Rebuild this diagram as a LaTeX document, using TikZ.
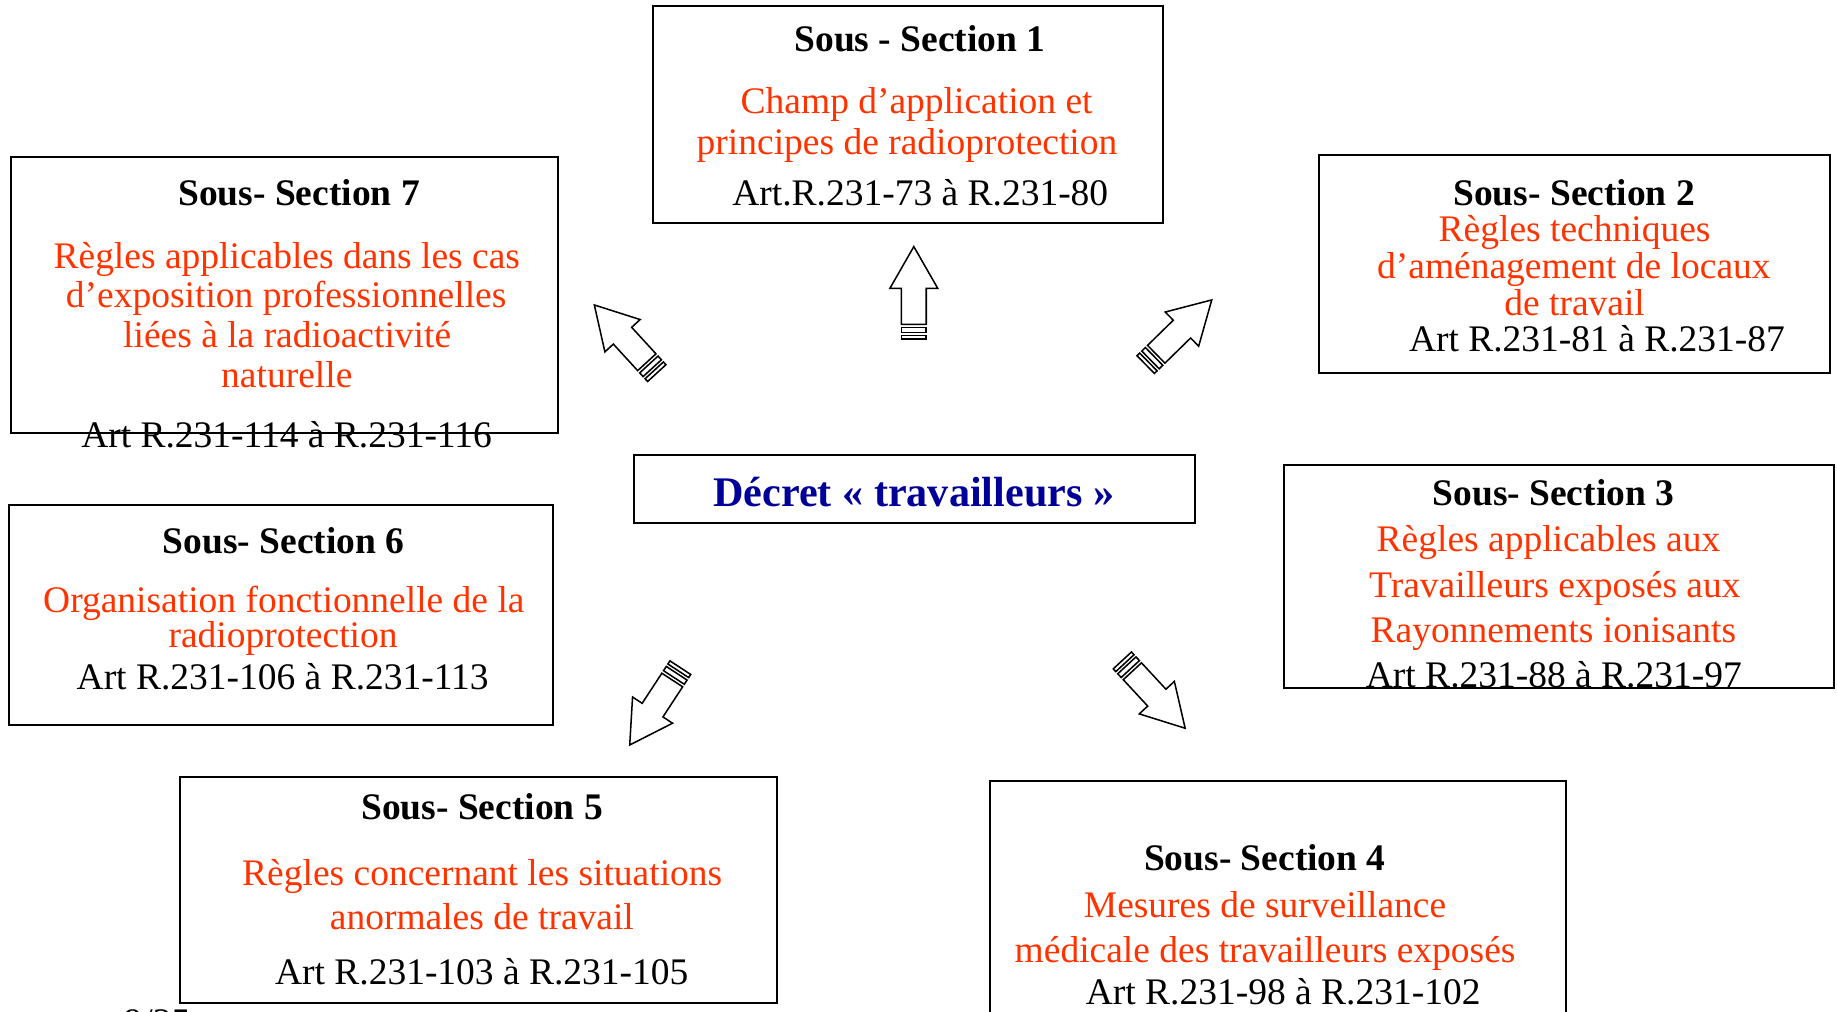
\documentclass[tikz,border=0pt]{standalone}
\usepackage{fontspec}
\setmainfont{Liberation Serif}
\definecolor{ssred}{RGB}{255,51,0}
\definecolor{decblue}{RGB}{0,0,153}
\tikzset{
  box/.style={draw, line width=0.8pt, inner sep=0pt, outer sep=0pt},
  txt/.style={anchor=base, inner sep=0pt, outer sep=0pt, font=\fontsize{16pt}{17pt}\selectfont},
  hdr/.style={txt, font=\fontsize{16pt}{17pt}\selectfont\bfseries},
  body/.style={txt, text=ssred},
  art/.style={txt},
  dec/.style={anchor=base, inner sep=0pt, text=decblue, font=\fontsize{18pt}{20pt}\selectfont\bfseries},
  arrowline/.style={draw, fill=white, line width=0.65pt, line join=miter},
  blockarrow/.pic={
    \path[arrowline] (0,0) -- (-35.6,20.4) -- (-35.6,10.6) -- (-66.3,10.6)
      -- (-66.3,-10.6) -- (-35.6,-10.6) -- (-35.6,-20.4) -- cycle;
    \path[arrowline] (-68.9,-10.6) rectangle (-73.2,10.6);
    \path[arrowline] (-75.7,-10.6) rectangle (-78.9,10.6);
  }
}
\begin{document}
\begin{tikzpicture}[x=0.5pt,y=0.5pt]
\useasboundingbox (0,0) rectangle (1568,-863);
\clip (0,0) rectangle (1568,-863);
\fill[white] (0,0) rectangle (1568,-863);

% boxes
\node[box, minimum width=217.6pt, minimum height=92.75pt] (ss1) at (775,-97.55) {};
\node[box, minimum width=233.35pt, minimum height=117.8pt] (ss7) at (242.65,-251.5) {};
\node[box, minimum width=218pt, minimum height=92.85pt] (ss2) at (1344,-225.15) {};
\node[box, minimum width=239.7pt, minimum height=28.85pt] (dec) at (780.6,-417.25) {};
\node[box, minimum width=234.95pt, minimum height=95.3pt] (ss3) at (1330.65,-492.2) {};
\node[box, minimum width=232.15pt, minimum height=93.9pt] (ss6) at (239.75,-524.9) {};
\node[box, minimum width=254.8pt, minimum height=96.75pt] (ss5) at (408.4,-759.65) {};
\node[box, minimum width=246.1pt, minimum height=116.85pt] (ss4) at (1090.8,-783.15) {};

\begin{scope}[shift={(0,-2)}]
% Sous-Section 1
\node[hdr] (h1) at (785.3,-42.1) {Sous - Section 1};
\node[body] (r1a) at (782.4,-95.3) {Champ d’application et};
\node[body] (r1b) at (774.2,-129.5) {principes de radioprotection};
\node[art] (a1) at (785.5,-173) {Art.R.231-73 à R.231-80};

% Sous-Section 7
\node[hdr] (h7) at (255.2,-173.6) {Sous- Section 7};
\node[body] (r7a) at (244.8,-227.6) {Règles applicables dans les cas};
\node[body] (r7b) at (244.3,-260.3) {d’exposition professionnelles};
\node[body] (r7c) at (245.1,-294.5) {liées à la radioactivité};
\node[body] (r7d) at (244.8,-328.6) {naturelle};
\node[art] (a7) at (244.6,-379.8) {Art R.231-114 à R.231-116};

% Sous-Section 2
\node[hdr] (h2) at (1343.6,-173.6) {Sous- Section 2};
\node[body] (r2a) at (1344,-204.3) {Règles techniques};
\node[body] (r2b) at (1343.4,-236.1) {d’aménagement de locaux};
\node[body] (r2c) at (1344,-267.4) {de travail};
\node[art] (a2) at (1363.1,-297.9) {Art R.231-81 à R.231-87};

% Central
\node[dec] (dect) at (780,-430) {Décret « travailleurs »};

% Sous-Section 3
\node[hdr] (h3) at (1325.9,-429.6) {Sous- Section 3};
\node[body] (r3a) at (1321.7,-468.9) {Règles applicables aux};
\node[body] (r3b) at (1327.2,-507.8) {Travailleurs exposés aux};
\node[body] (r3c) at (1325.9,-546.3) {Rayonnements ionisants};
\node[art] (a3) at (1326.3,-584.7) {Art R.231-88 à R.231-97};

% Sous-Section 6
\node[hdr] (h6) at (242,-470.3) {Sous- Section 6};
\node[body] (r6a) at (242.3,-520.7) {Organisation fonctionnelle de la};
\node[body] (r6b) at (241.6,-550.5) {radioprotection};
\node[art] (a6) at (241.3,-586.1) {Art R.231-106 à R.231-113};

% Sous-Section 5
\node[hdr] (h5) at (411.4,-697.1) {Sous- Section 5};
\node[body] (r5a) at (411.6,-754) {Règles concernant les situations};
\node[body] (r5b) at (411.3,-791) {anormales de travail};
\node[art] (a5) at (411.2,-837.9) {Art R.231-103 à R.231-105};

% Sous-Section 4
\node[hdr] (h4) at (1079.6,-741.2) {Sous- Section 4};
\node[body] (r4a) at (1079.8,-781) {Mesures de surveillance};
\node[body] (r4b) at (1079.8,-819.4) {médicale des travailleurs exposés};
\node[art] (a4) at (1095.3,-855.6) {Art R.231-98 à R.231-102};

% page number (cut off at the page edge, as in the reference)
\node[art] (pg) at (134,-881) {9/25};
\end{scope}

% block arrows
\coordinate (tipN) at (780,-210.5);
\coordinate (tipNW) at (507.3,-260.3);
\coordinate (tipNE) at (1034.3,-256);
\coordinate (tipSW) at (537.5,-635.9);
\coordinate (tipSE) at (1011.6,-621.6);
\path (tipN) pic[rotate=90] {blockarrow};
\path (tipNW) pic[rotate=132.5] {blockarrow};
\path (tipNE) pic[rotate=44.4] {blockarrow};
\path (tipSW) pic[rotate=236.8] {blockarrow};
\path (tipSE) pic[rotate=-47.2] {blockarrow};
\end{tikzpicture}
\end{document}
